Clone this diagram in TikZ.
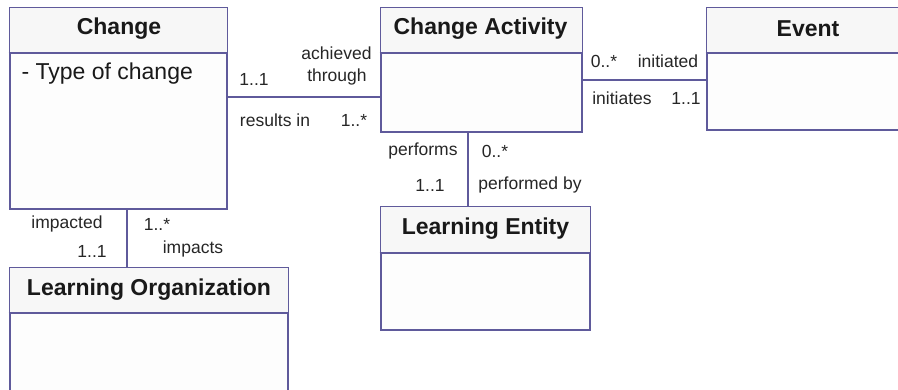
\documentclass[tikz,border=0pt]{standalone}
\usepackage{fontspec}
\setmainfont{Liberation Sans}
\usetikzlibrary{calc}
\definecolor{umlline}{RGB}{95,90,155}
\definecolor{hdrfill}{RGB}{247,247,247}
\definecolor{bodyfill}{RGB}{253,253,253}
\begin{document}
\begin{tikzpicture}[x=1pt,y=-1pt,
  box/.style={draw=umlline, line width=2.9pt, fill=bodyfill, rectangle, inner sep=0pt},
  hdr/.style={font=\fontsize{23}{27}\selectfont\bfseries, text=black!90},
  attr/.style={font=\fontsize{23}{27}\selectfont, text=black!90, anchor=west},
  lbl/.style={font=\fontsize{17.5}{20}\selectfont, text=black!85},
  conn/.style={draw=umlline, line width=2.9pt}]
\clip (0,0) rectangle (898,390);
\fill[white] (0,0) rectangle (898,390);
% boxes: name, corners
\newcommand{\umlbox}[6]{% name, x1,y1,x2,y2, ydiv
  \node[box, minimum width={#4-#2}, minimum height={#5-#3}] (#1) at ({(#2+#4)/2},{(#3+#5)/2}) {};
  \fill[hdrfill] ($(#1.north west)+(1.5,1.5)$) rectangle ($(#1.north east |- 0,#6)+(-1.5,0)$);
  \draw[conn] (#1.west |- 0,#6) -- (#1.east |- 0,#6);
}
\umlbox{change}{10}{8}{227}{209}{53}
\umlbox{ca}{381}{8}{582}{132}{53}
\umlbox{event}{707}{8}{909}{130}{53}
\umlbox{lorg}{10}{268}{288}{420}{313}
\umlbox{lent}{381}{207}{590}{330}{253}
% headers
\node[hdr] (tChange) at (119,29) {Change};
\node[hdr] (tCA) at (480.5,29) {Change Activity};
\node[hdr] (tEvent) at (808,29) {Event};
\node[hdr] (tLOrg) at (149,290) {Learning Organization};
\node[hdr] (tLEnt) at (485.5,229) {Learning Entity};
\node[attr] (aType) at (18,74) {- Type of change};
% connectors
\coordinate (y1) at (0,97);
\coordinate (y2) at (0,80);
\coordinate (x3) at (468,0);
\coordinate (x4) at (127,0);
\draw[conn] (change.east |- y1) -- (ca.west |- y1);
\draw[conn] (ca.east |- y2) -- (event.west |- y2);
\draw[conn] (ca.south -| x3) -- (lent.north -| x3);
\draw[conn] (change.south -| x4) -- (lorg.north -| x4);
% labels
\node[lbl] (l1) at (336.5,53) {achieved};
\node[lbl] (l2) at (337,77) {through};
\node[lbl] (l3) at (254,79) {1..1};
\node[lbl] (l4) at (275,120) {results in};
\node[lbl] (l5) at (354,120) {1..*};
\node[lbl] (l6) at (423,151) {performs};
\node[lbl] (l7) at (495,151) {0..*};
\node[lbl] (l8) at (430,185) {1..1};
\node[lbl] (l9) at (530,185) {performed by};
\node[lbl] (l10) at (604,61) {0..*};
\node[lbl] (l11) at (668,61) {initiated};
\node[lbl] (l12) at (622,98) {initiates};
\node[lbl] (l13) at (686,98) {1..1};
\node[lbl] (l14) at (67,224) {impacted};
\node[lbl] (l15) at (157,224) {1..*};
\node[lbl] (l16) at (92,251) {1..1};
\node[lbl] (l17) at (193,249) {impacts};
\end{tikzpicture}
\end{document}
